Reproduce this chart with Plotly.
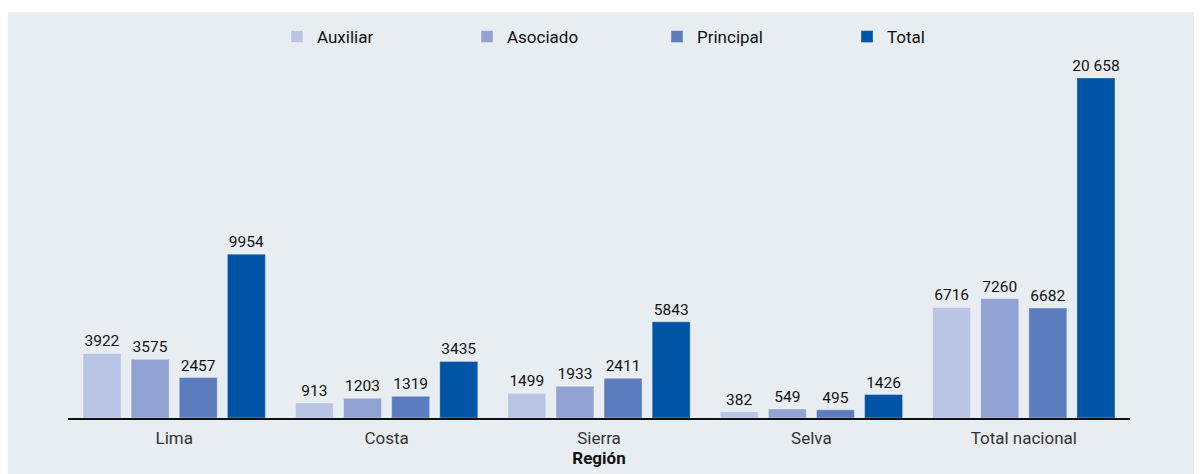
import plotly.graph_objects as go

regions = ["Lima", "Costa", "Sierra", "Selva", "Total nacional"]
auxiliar = [3922, 913, 1499, 382, 6716]
asociado = [3575, 1203, 1933, 549, 7260]
principal = [2457, 1319, 2411, 495, 6682]
total = [9954, 3435, 5843, 1426, 20658]

series = [("Auxiliar", auxiliar, "#bac4e4"),
          ("Asociado", asociado, "#92a3d3"),
          ("Principal", principal, "#5b7dbe"),
          ("Total", total, "#0054a5")]


def fmt(v):
    return f"{v:,}".replace(",", " ") if v >= 10000 else str(v)


fig = go.Figure()
for name, vals, col in series:
    fig.add_trace(go.Bar(
        x=regions, y=vals, name=name,
        marker=dict(color=col, line=dict(color="rgba(255,255,255,0.35)", width=1)),
        text=[fmt(v) for v in vals], textposition="outside",
        constraintext="none",
        textfont=dict(family="Roboto", size=15.5, color="#111"),
        cliponaxis=False,
    ))

W, H = 1202, 474
L, R, T, B = 60, 80, 52, 64
pw, ph = W - L - R, H - T - B
BG = "#e8edf1"

fig.update_layout(
    width=W, height=H,
    margin=dict(l=L, r=R, t=T, b=B, autoexpand=False),
    paper_bgcolor=BG,
    plot_bgcolor="rgba(0,0,0,0)",
    barmode="group",
    bargap=0.094,
    bargroupgap=0.21,
    font=dict(family="Roboto", color="#222"),
    showlegend=True,
    legend=dict(orientation="h", x=(269 - L) / pw, xanchor="left",
                y=(H - B - 29) / ph, yanchor="middle",
                entrywidth=145, entrywidthmode="pixels",
                font=dict(family="Roboto", size=17, color="#111"),
                bgcolor="rgba(0,0,0,0)", itemclick=False),
    xaxis=dict(showline=True, linecolor="#111", linewidth=1.5,
               ticks="outside", ticklen=4, tickcolor="rgba(0,0,0,0)",
               tickfont=dict(family="Roboto", size=17, color="#333"),
               title=dict(text="<b>Región</b>", standoff=5,
                          font=dict(family="Roboto", size=17, color="#111")),
               showgrid=False, zeroline=False, automargin=False),
    yaxis=dict(range=[0, 21750], visible=False, showgrid=False, zeroline=False),
    shapes=[dict(type="rect", xref="paper", yref="paper",
                 x0=-0.2, x1=1.2, y0=(H - B - 4) / ph, y1=1.3,
                 fillcolor="white", line=dict(width=0), layer="below")],
)

fig.write_html("out.html")
